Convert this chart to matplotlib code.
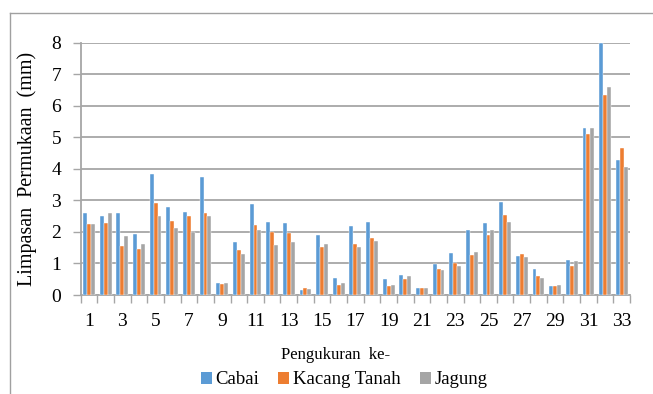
import matplotlib
matplotlib.use("Agg")
import matplotlib.pyplot as plt
from matplotlib.patches import Patch
from matplotlib.lines import Line2D
import numpy as np

plt.rcParams['font.family'] = 'serif'
plt.rcParams['font.serif'] = ['Liberation Serif', 'DejaVu Serif']

pengukuran = list(range(1, 34))
cabai = [2.59, 2.49, 2.59, 1.93, 3.83, 2.80, 2.64, 3.74, 0.38, 1.67, 2.87,
         2.33, 2.29, 0.16, 1.89, 0.55, 2.19, 2.33, 0.51, 0.65, 0.21, 0.98,
         1.32, 2.07, 2.27, 2.96, 1.24, 0.81, 0.30, 1.12, 5.29, 8.00, 4.28]
kacang_tanah = [2.25, 2.28, 1.56, 1.46, 2.91, 2.35, 2.49, 2.59, 0.36, 1.43, 2.22,
                2.00, 1.96, 0.23, 1.52, 0.31, 1.62, 1.81, 0.29, 0.51, 0.21, 0.82,
                1.03, 1.27, 1.90, 2.53, 1.30, 0.59, 0.30, 0.93, 5.10, 6.35, 4.65]
jagung = [2.25, 2.60, 1.87, 1.63, 2.52, 2.13, 2.01, 2.52, 0.38, 1.30, 2.07,
          1.58, 1.67, 0.20, 1.63, 0.38, 1.52, 1.71, 0.31, 0.59, 0.21, 0.80,
          0.93, 1.36, 2.05, 2.31, 1.21, 0.55, 0.33, 1.07, 5.29, 6.58, 4.05]
series_names = ['Cabai', 'Kacang Tanah', 'Jagung']
colors = ['#5B9BD5', '#ED7D31', '#A5A5A5']
y_ticks = list(range(0, 9))

FONT = 'Liberation Serif'
W, H = 653, 394
fig = plt.figure(figsize=(W / 100, H / 100), dpi=100)
ax = fig.add_axes([80.7 / W, 1 - 295 / H, (630 - 80.7) / W, (295 - 42.7) / H])

x = np.arange(len(pengukuran))
bw = 0.235
for i, (vals, c) in enumerate(zip([cabai, kacang_tanah, jagung], colors)):
    ax.bar(x + (i - 1) * bw, vals, width=bw, color=c, zorder=3,
           edgecolor='white', linewidth=0.3)

grid_c = '#A6A6A6'
ax.set_xlim(-0.5, len(pengukuran) - 0.5)
ax.set_ylim(0, 8)
ax.set_yticks(y_ticks)
ax.set_yticklabels([str(v) for v in y_ticks], fontsize=14, family=FONT)
ax.yaxis.grid(True, color=grid_c, linewidth=1.3, zorder=0)
ax.set_axisbelow(True)

major = x[::2]
ax.set_xticks(major)
ax.set_xticklabels([str(pengukuran[k]) for k in major], fontsize=14, family=FONT)
ax.set_xticks(np.arange(-0.5, len(pengukuran)), minor=True)
ax.tick_params(axis='x', which='major', length=0, pad=13)
ax.tick_params(axis='x', which='minor', length=6, color=grid_c, width=1.0)
ax.tick_params(axis='y', length=6, color=grid_c, width=1.0, pad=8)

for s in ['top', 'right']:
    ax.spines[s].set_visible(False)
for s in ['left', 'bottom']:
    ax.spines[s].set_color(grid_c)
    ax.spines[s].set_linewidth(1.3)

ax.set_ylabel('Limpasan  Permukaan  (mm)', fontsize=14.5, family=FONT, labelpad=10)

fig.text(336 / W, 1 - 355 / H, 'Pengukuran  ke-', ha='center', va='center',
         fontsize=12, family=FONT)

handles = [Patch(facecolor=c, edgecolor='none') for c in colors]
fig.legend(handles, series_names, loc='center', bbox_to_anchor=(344 / W, 1 - 380 / H),
           ncol=3, frameon=False, prop={'family': FONT, 'size': 13.5},
           handlelength=0.6, handleheight=0.6,
           handletextpad=0.2, columnspacing=1.0, borderpad=0)

# chart area frame
fig.add_artist(Line2D([9.5 / W, 1.0], [1 - 13 / H, 1 - 13 / H], color='#A0A0A0',
                      linewidth=1.0, transform=fig.transFigure))
fig.add_artist(Line2D([9.5 / W, 9.5 / W], [1 - 13 / H, 0.0], color='#A0A0A0',
                      linewidth=1.0, transform=fig.transFigure))

fig.savefig('out.png', dpi=100)
